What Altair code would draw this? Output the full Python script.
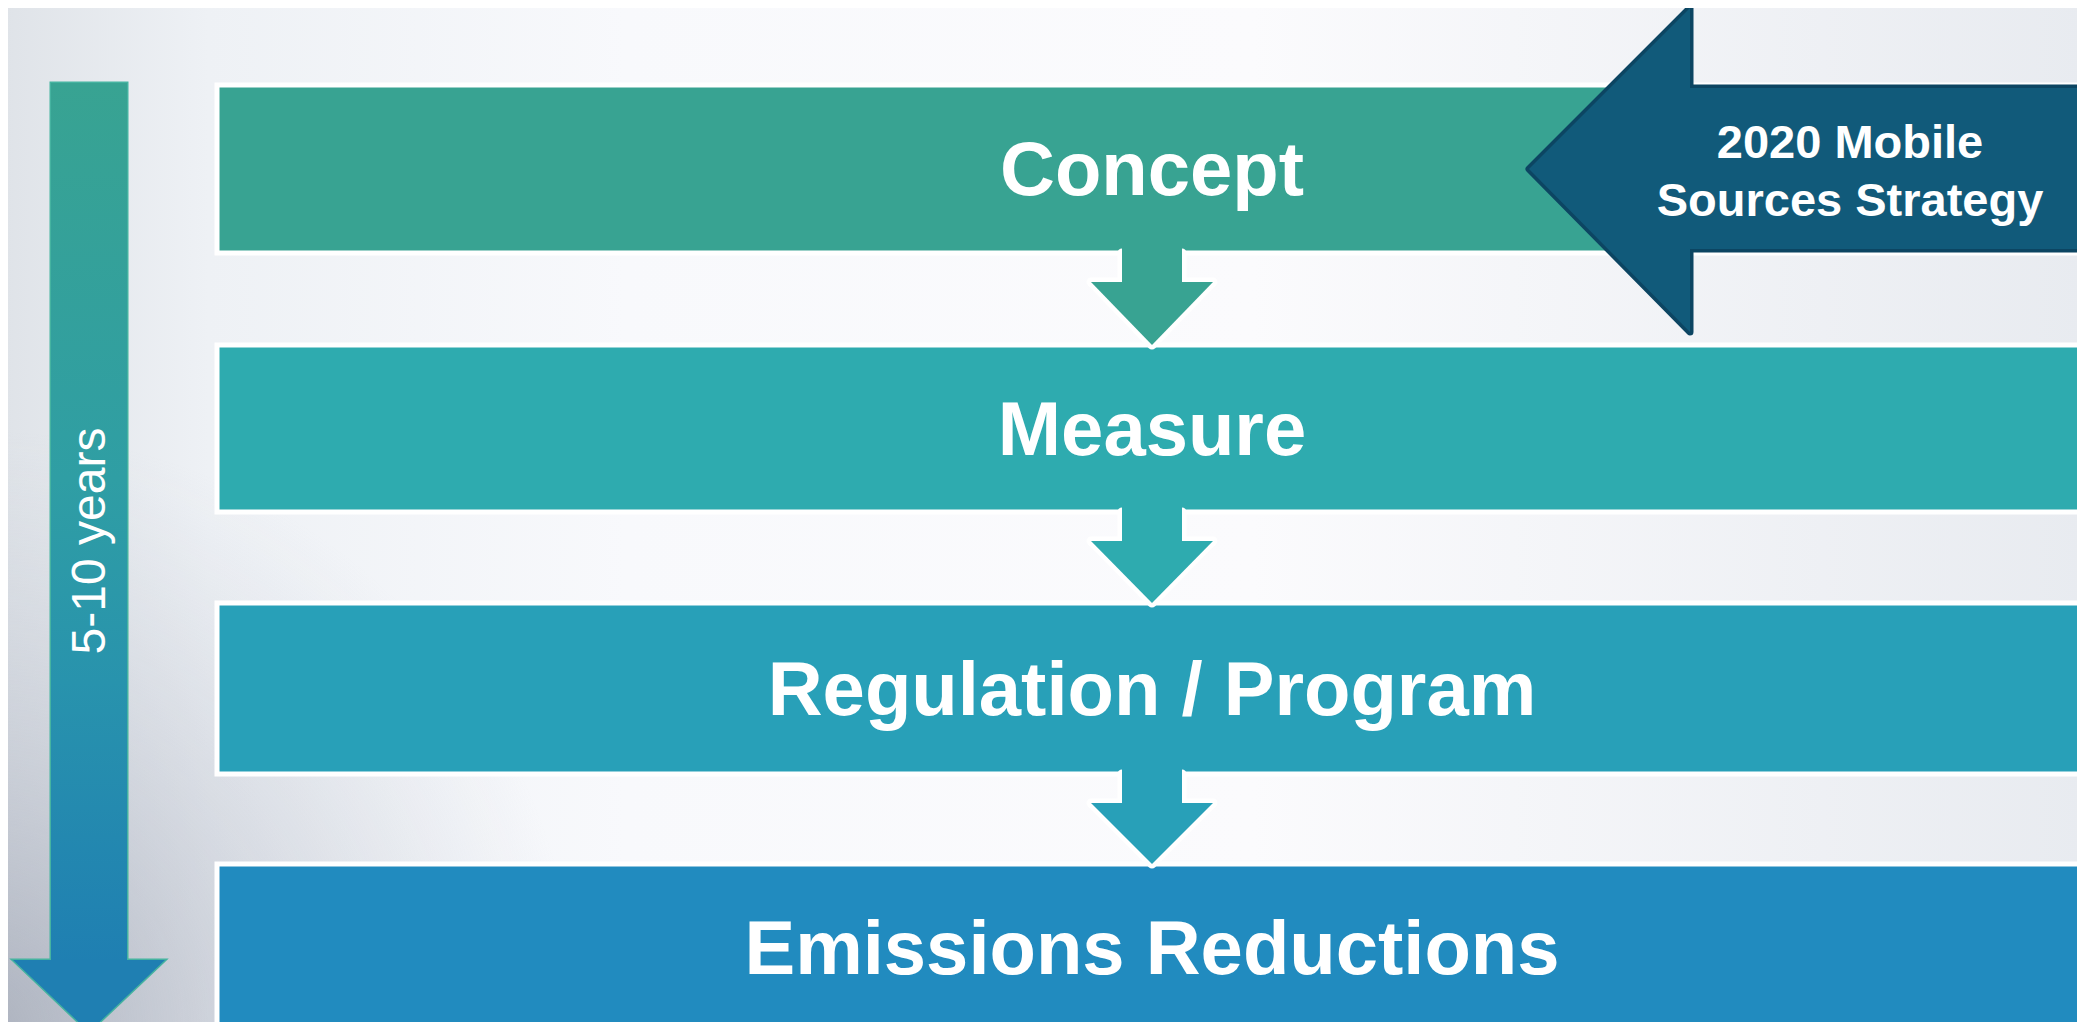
import altair as alt
import pandas as pd

# ---------------- data ----------------
W, H, M = 2085, 1030, 8

stage_labels = ["Concept", "Measure", "Regulation / Program", "Emissions Reductions"]
stage_top = [87, 347, 605, 866]
stage_bottom = [251, 510, 772, 1040]
stage_colors = ["#38A392", "#2EABAF", "#28A0B8", "#218BBF"]
stage_left, stage_right = 219, 2081

conn_cx = 1152
conn_shaft_hw = 30
conn_head_hw = 61
conn_shaft_len = 31

timeline_label = "5-10 years"
timeline_x = [51, 127]
timeline_top = 83
timeline_head_top = 960
timeline_head_x = [13, 165]
timeline_tip = 1032
timeline_colors = ["#38A392", "#2F9EA4", "#2893AD", "#1F7FB2"]

strategy_lines = ["2020 Mobile", "Sources Strategy"]
strategy_line_y = [142, 200]
strategy_text_x = 1850
strategy_tip = [1529, 169]
strategy_head_x = 1690
strategy_head_y = [8, 332]
strategy_shaft_y = [88, 249]
strategy_right = 2083
strategy_fill = "#115A7A"
strategy_edge = "#0C4562"

# ---------------- scales ----------------
xs = alt.Scale(domain=[M, W - M], nice=False, zero=False)
ys = alt.Scale(domain=[M, H - M], nice=False, zero=False, reverse=True)


def X(f):
    return alt.X(f, type="quantitative", scale=xs, axis=None, stack=None)


def Y(f):
    return alt.Y(f, type="quantitative", scale=ys, axis=None, stack=None)


def rects(df, **mk):
    return alt.Chart(df).mark_rect(clip=True, **mk).encode(
        x=X("x0"), x2="x1", y=Y("y0"), y2="y1"
    )


def down_head(y_top, y_tip, xl, xr, **mk):
    """Downward triangle as a horizontal area (two rows)."""
    xc = (xl + xr) / 2
    df = pd.DataFrame({"yy": [y_top, y_tip], "xa": [xl, xc], "xb": [xr, xc]})
    return alt.Chart(df).mark_area(orient="horizontal", clip=True, **mk).encode(
        y=Y("yy"), x=X("xa"), x2="xb"
    )


def left_head(x_tip, y_tip, x_base, y_base_top, y_base_bot, **mk):
    """Left-pointing triangle as a vertical area (two rows)."""
    df = pd.DataFrame({"xx": [x_tip, x_base], "ya": [y_tip, y_base_top],
                       "yb": [y_tip, y_base_bot]})
    return alt.Chart(df).mark_area(orient="vertical", clip=True, **mk).encode(
        x=X("xx"), y=Y("ya"), y2="yb"
    )


# ---------------- background ----------------
bg = pd.DataFrame({"x0": [0], "x1": [W], "y0": [0], "y1": [H]})
bg_grad = alt.Gradient(
    gradient="linear",
    x1=0, y1=0, x2=1, y2=0,
    stops=[
        alt.GradientStop(color="#DFE3E8", offset=0),
        alt.GradientStop(color="#EEF1F5", offset=0.1),
        alt.GradientStop(color="#F8F9FC", offset=0.3),
        alt.GradientStop(color="#FBFBFD", offset=0.6),
        alt.GradientStop(color="#E8EBF0", offset=1),
    ],
)
bg_layer = rects(bg, fill=bg_grad)

shade = pd.DataFrame({"x0": [0], "x1": [560], "y0": [430], "y1": [H]})
shade_grad = alt.Gradient(
    gradient="radial",
    x1=0, y1=1, r1=0, x2=0, y2=1, r2=1,
    stops=[
        alt.GradientStop(color="rgba(160,166,180,0.8)", offset=0),
        alt.GradientStop(color="rgba(170,176,190,0.45)", offset=0.4),
        alt.GradientStop(color="rgba(190,196,208,0)", offset=1),
    ],
)
shade_layer = rects(shade, fill=shade_grad)

# ---------------- stage boxes ----------------
boxes = pd.DataFrame({
    "label": stage_labels,
    "x0": [stage_left - 2] * 4,
    "x1": [stage_right + 2] * 4,
    "y0": [t - 2 for t in stage_top],
    "y1": [b + 2 for b in stage_bottom],
    "color": stage_colors,
    "ym": [(t + min(b, H)) / 2 for t, b in zip(stage_top, stage_bottom)],
    "xm": [conn_cx] * 4,
})
box_layer = rects(boxes, stroke="white", strokeWidth=5).encode(
    fill=alt.Fill("color:N", scale=None)
)
box_text = alt.Chart(boxes).mark_text(
    font="Liberation Sans", fontWeight="bold", fontSize=76, color="white",
    align="center", baseline="middle", dy=3,
).encode(x=X("xm"), y=Y("ym"), text="label:N")

# ---------------- connector arrows ----------------
conn_outline, conn_fill = [], []
for i in range(3):
    b = stage_bottom[i]
    nxt = stage_top[i + 1]
    col = stage_colors[i]
    sh = pd.DataFrame({"x0": [conn_cx - conn_shaft_hw], "x1": [conn_cx + conn_shaft_hw],
                       "y0": [b + 2], "y1": [b + conn_shaft_len]})
    conn_outline.append(rects(sh, fill=col, stroke="white", strokeWidth=9,
                              strokeJoin="round"))
    conn_outline.append(down_head(b + conn_shaft_len, nxt - 2,
                                  conn_cx - conn_head_hw, conn_cx + conn_head_hw,
                                  fill=col, stroke="white", strokeWidth=9,
                                  strokeJoin="round"))
    conn_fill.append(rects(sh.assign(y0=b - 4, y1=b + conn_shaft_len + 1), fill=col))
    conn_fill.append(down_head(b + conn_shaft_len, nxt - 2,
                               conn_cx - conn_head_hw, conn_cx + conn_head_hw,
                               fill=col))

# ---------------- timeline arrow ----------------
tl_shaft = pd.DataFrame({"x0": [timeline_x[0]], "x1": [timeline_x[1]],
                         "y0": [timeline_top], "y1": [timeline_head_top + 1]})
tl_grad = alt.Gradient(
    gradient="linear", x1=0, y1=0, x2=0, y2=1,
    stops=[alt.GradientStop(color=c, offset=o)
           for c, o in zip(timeline_colors, [0, 0.45, 0.68, 1])],
)
tl_outline = [
    rects(tl_shaft, fill=tl_grad, stroke="#45B3A0", strokeWidth=3),
    down_head(timeline_head_top, timeline_tip, timeline_head_x[0], timeline_head_x[1],
              fill=timeline_colors[-1], stroke="#45B3A0", strokeWidth=3),
]
tl_fill = [
    rects(tl_shaft.assign(y1=timeline_head_top + 3), fill=tl_grad),
    down_head(timeline_head_top, timeline_tip, timeline_head_x[0], timeline_head_x[1],
              fill=timeline_colors[-1]),
]
tl_text = alt.Chart(pd.DataFrame({
    "label": [timeline_label], "x": [sum(timeline_x) / 2], "y": [541],
})).mark_text(
    font="Liberation Sans", fontSize=48, color="white", angle=270,
    align="center", baseline="middle", dy=2,
).encode(x=X("x"), y=Y("y"), text="label:N")

# ---------------- strategy arrow ----------------
st_shaft = pd.DataFrame({"x0": [strategy_head_x - 2], "x1": [strategy_right],
                         "y0": [strategy_shaft_y[0]], "y1": [strategy_shaft_y[1]]})
st_outline = [
    rects(st_shaft, fill=strategy_fill, stroke=strategy_edge, strokeWidth=7,
          strokeJoin="round"),
    left_head(strategy_tip[0], strategy_tip[1], strategy_head_x,
              strategy_head_y[0], strategy_head_y[1],
              fill=strategy_fill, stroke=strategy_edge, strokeWidth=7,
              strokeJoin="round"),
]
st_fill = [
    rects(st_shaft.assign(x0=strategy_head_x - 6), fill=strategy_fill),
    left_head(strategy_tip[0], strategy_tip[1], strategy_head_x,
              strategy_head_y[0], strategy_head_y[1], fill=strategy_fill),
]
st_text = alt.Chart(pd.DataFrame({
    "label": strategy_lines, "x": [strategy_text_x] * 2, "y": strategy_line_y,
})).mark_text(
    font="Liberation Sans", fontWeight="bold", fontSize=47, color="white",
    align="center", baseline="middle", dy=2,
).encode(x=X("x"), y=Y("y"), text="label:N")

# ---------------- compose ----------------
chart = alt.layer(
    bg_layer, shade_layer,
    box_layer,
    *conn_outline, *conn_fill,
    *tl_outline, *tl_fill,
    box_text, tl_text,
    *st_outline, *st_fill, st_text,
).properties(
    width=W - 2 * M, height=H - 2 * M, padding=0,
    autosize=alt.AutoSizeParams(type="none"),
).configure_view(strokeWidth=0).configure(background="#F2F4F7")

chart.save("out.html", embed_options={"renderer": "svg", "actions": False})
